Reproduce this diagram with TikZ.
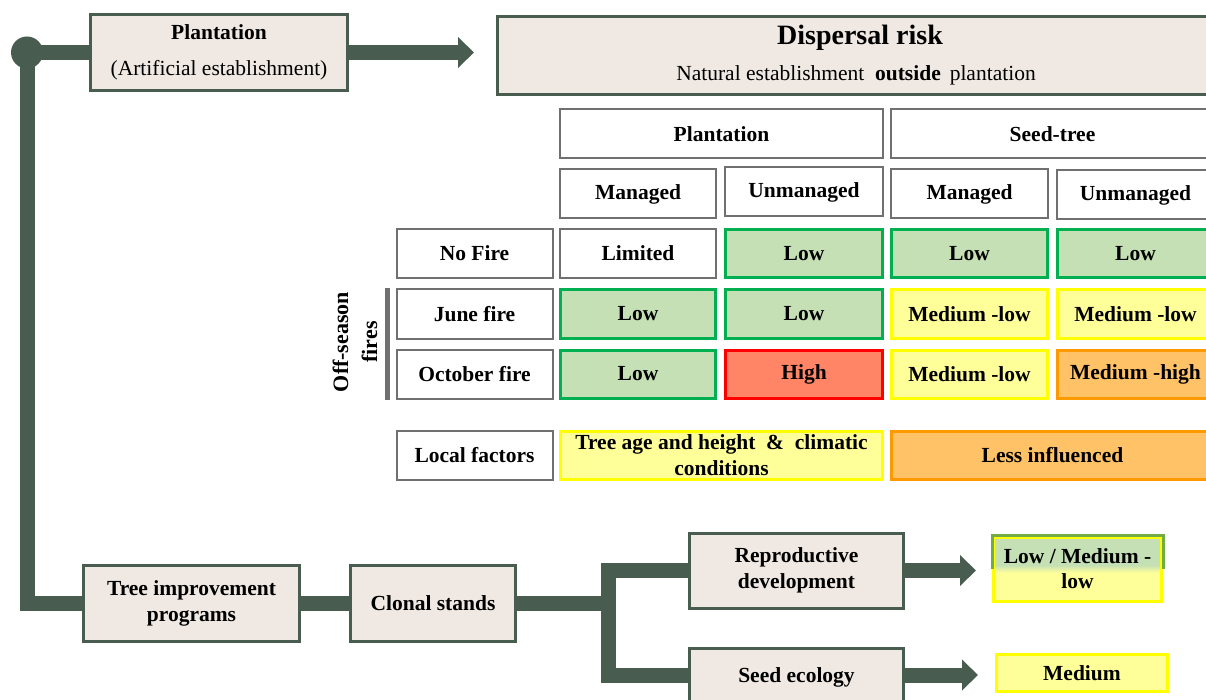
\documentclass[tikz,border=0pt]{standalone}
\usepackage{fontspec}
\setmainfont{Liberation Serif}
\usetikzlibrary{arrows.meta,backgrounds}

\definecolor{flowgreen}{HTML}{485C50}
\definecolor{boxbeige}{HTML}{F0E9E3}
\definecolor{gridgray}{HTML}{707070}
\definecolor{lowfill}{HTML}{C5E0B4}
\definecolor{lowline}{HTML}{00B050}
\definecolor{medfill}{HTML}{FFFF99}
\definecolor{medline}{HTML}{FFFF00}
\definecolor{mhfill}{HTML}{FFC266}
\definecolor{mhline}{HTML}{FF9900}
\definecolor{highfill}{HTML}{FF8566}
\definecolor{highline}{HTML}{FF0000}
\definecolor{lmline}{HTML}{70AD47}

\pgfdeclareverticalshading{lowmedshade}{100bp}{color(0bp)=(medfill); color(25bp)=(medfill); color(47bp)=(medfill); color(53bp)=(lowfill); color(75bp)=(lowfill); color(100bp)=(lowfill)}

\tikzset{
  flowbox/.style={draw=flowgreen, line width=3pt, fill=boxbeige, align=center, inner sep=0pt,
    font=\bfseries\fontsize{21.5}{26}\selectfont},
  gridcell/.style={draw=gridgray, line width=2pt, fill=white, align=center, inner sep=0pt,
    minimum width=156, minimum height=49, font=\bfseries\fontsize{21.5}{26}\selectfont},
  colcell/.style={gridcell, line width=3pt, minimum width=155, minimum height=48},
  lowcell/.style={colcell, draw=lowline, fill=lowfill},
  medcell/.style={colcell, draw=medline, fill=medfill},
  mhcell/.style={colcell, draw=mhline, fill=mhfill},
  highcell/.style={colcell, draw=highline, fill=highfill},
  flowline/.style={flowgreen, line width=15pt},
  flowarrow/.style={flowline, -{Triangle[length=16pt,width=30pt]}}
}

\begin{document}
\begin{tikzpicture}[x=1pt,y=-1pt]
\useasboundingbox (0,0) rectangle (1206,700);

% top: plantation and dispersal risk
\node[flowbox, minimum width=257, minimum height=76] (plant) at (219,52.5)
  {Plantation\\[10pt]\mdseries (Artificial establishment)};
\node[draw=flowgreen, line width=3pt, fill=boxbeige, minimum width=724, minimum height=78,
  anchor=west] (risk) at (496,55.5) {};
\node[font=\bfseries\fontsize{28}{30}\selectfont] (risktitle) at (860,38) {Dispersal risk};
\node[font=\fontsize{21.5}{24}\selectfont] (risksub) at (856,75)
  {Natural establishment \ \textbf{outside} \,plantation};

% table header
\node[gridcell, minimum width=323] (hplant) at (721.5,134) {Plantation};
\node[gridcell, minimum width=323] (hseed) at (1052.5,134) {Seed-tree};
\node[gridcell] (pman) at (638,194) {Managed};
\node[gridcell, minimum width=158] (punman) at (804,192) {Unmanaged};
\node[gridcell, minimum width=157] (sman) at (969.5,194) {Managed};
\node[gridcell, minimum width=157] (sunman) at (1135.5,195) {Unmanaged};

% row labels
\node[gridcell] (nofire) at (474.5,253.5) {No Fire};
\node[gridcell] (junefire) at (474.5,314) {June fire};
\node[gridcell] (octfire) at (474.5,374) {October fire};
\node[gridcell] (localf) at (474.5,455.5) {Local factors};
\node[rotate=90, align=center, font=\bfseries\fontsize{22}{29}\selectfont] (offseason) at (355,342)
  {Off-season\\fires};
\draw[gridgray, line width=5pt] ([xshift=-8.5pt]junefire.north west) -- ([xshift=-8.5pt]octfire.south west);

% risk cells
\node[gridcell] (nf1) at (638,253.5) {Limited};
\node[lowcell, minimum width=157] (nf2) at (804,253.5) {Low};
\node[lowcell, minimum width=156] (nf3) at (969.5,253.5) {Low};
\node[lowcell, minimum width=156] (nf4) at (1135.5,253.5) {Low};
\node[lowcell] (jf1) at (638,314) {Low};
\node[lowcell, minimum width=157] (jf2) at (804,314) {Low};
\node[medcell, minimum width=156] (jf3) at (969.5,314) {Medium -low};
\node[medcell, minimum width=156] (jf4) at (1135.5,314) {Medium -low};
\node[lowcell] (of1) at (638,374) {Low};
\node[highcell, minimum width=157] (of2) at (804,374) {High};
\node[medcell, minimum width=156] (of3) at (969.5,374) {Medium -low};
\node[mhcell, minimum width=156] (of4) at (1135.5,374) {Medium -high};
\node[medcell, minimum width=322] (lf1) at (721.5,455.5) {Tree age and height \ \& \ climatic\\conditions};
\node[mhcell, minimum width=322] (lf2) at (1052.5,455.5) {Less influenced};

% bottom: breeding path
\node[flowbox, minimum width=216, minimum height=76] (treeimp) at (191.5,603.5) {Tree improvement\\programs};
\node[flowbox, minimum width=165, minimum height=76] (clonal) at (433,603.5) {Clonal stands};
\node[flowbox, minimum width=214, minimum height=75] (repro) at (796.5,570.5) {Reproductive\\development};
\node[flowbox, minimum width=214, minimum height=57] (seedeco) at (796.5,677) {Seed ecology};
\node[draw=medline, line width=3pt, shading=lowmedshade, align=center, inner sep=0pt,
  minimum width=168, minimum height=64, font=\bfseries\fontsize{21.5}{25}\selectfont] (lowmed) at (1077.5,569)
  {Low / Medium -\\low};
\draw[lmline, line width=3pt] (lowmed.west) -- (lowmed.north west) -- (lowmed.north east) -- (lowmed.east);
\node[medcell, minimum width=171, minimum height=37] (medium) at (1082,673) {Medium};

% connectors
\coordinate (hub) at (27,52.5);
\coordinate (plantend) at (474,52.5);
\coordinate (branchtop) at (608,570.5);
\coordinate (branchbot) at (608,675);
\begin{scope}[on background layer]
  \fill[flowgreen] (hub) circle (16);
  \draw[flowline] (hub) -- (plant.west);
  \draw[flowline] (hub) |- (treeimp.west);
  \draw[flowarrow] (plant.east) -- (plantend);
  \draw[flowline] (treeimp.east) -- (clonal.west);
  \draw[flowline] (clonal.east) -- (clonal.east -| branchtop);
  \draw[flowline] (repro.west) -- (branchtop) -- (branchbot) -- (seedeco.west |- branchbot);
  \draw[flowarrow, shorten >=16pt] (repro.east) -- (repro.east -| lowmed.west);
  \draw[flowarrow, shorten >=17pt] (seedeco.east |- branchbot) -- (branchbot -| medium.west);
\end{scope}
\end{tikzpicture}
\end{document}
